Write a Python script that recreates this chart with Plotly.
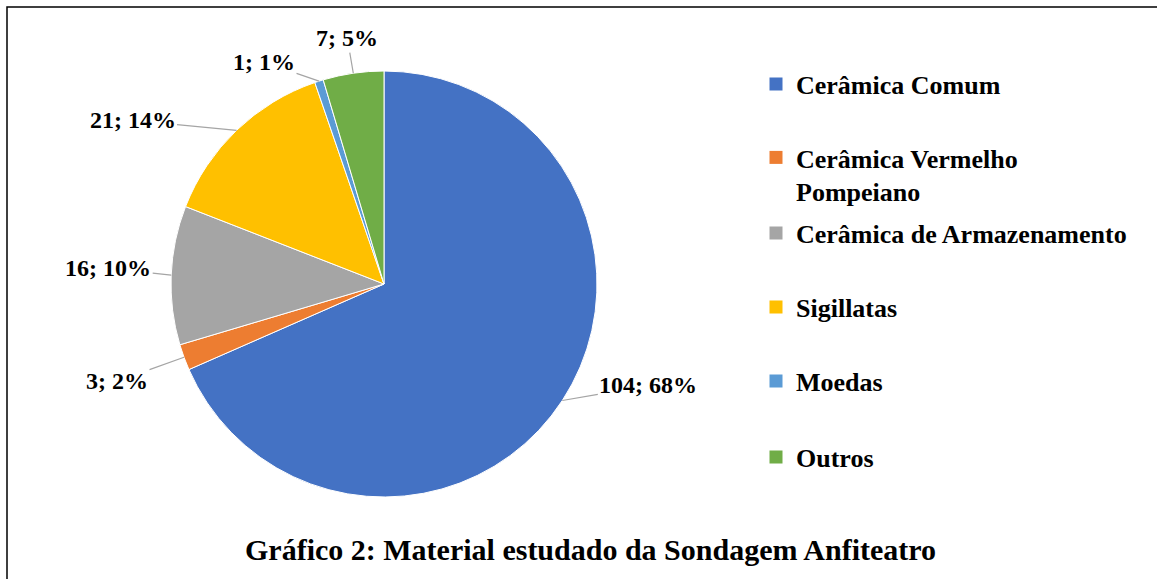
import math
import plotly.graph_objects as go

# ---- data ----
categories = ["Cerâmica Comum", "Cerâmica Vermelho Pompeiano", "Cerâmica de Armazenamento",
              "Sigillatas", "Moedas", "Outros"]
legend_labels = ["Cerâmica Comum", "Cerâmica Vermelho<br>Pompeiano", "Cerâmica de Armazenamento",
                 "Sigillatas", "Moedas", "Outros"]
values = [104, 3, 16, 21, 1, 7]
pct_labels = ["68%", "2%", "10%", "14%", "1%", "5%"]
colors = ["#4472C4", "#ED7D31", "#A5A5A5", "#FFC000", "#5B9BD5", "#70AD47"]
title_text = "Gráfico 2: Material estudado da Sondagem Anfiteatro"

# ---- layout constants ----
W, H = 1157, 579
CX, CY, R = 384, 284, 213           # pie centre / radius in px
FONT = "Liberation Serif, Times New Roman, serif"
label_offsets = [(86, -15), (-67, 24), (-63, -7), (-104, -10), (-55, -19), (-6, -35)]
legend_y_px = [84, 134, 233, 307, 381, 457]
legend_anchor = ["middle", "top", "middle", "middle", "middle", "middle"]

dom_x = [(CX - R) / W, (CX + R) / W]
dom_y = [1 - (CY + R) / H, 1 - (CY - R) / H]

fig = go.Figure()
fig.add_trace(go.Pie(
    labels=categories, values=values, sort=False, direction="clockwise", rotation=0,
    marker=dict(colors=colors, line=dict(color="white", width=1)),
    textinfo="none", showlegend=False, domain=dict(x=dom_x, y=dom_y),
    hoverinfo="label+value+percent",
))

# data labels with leader lines
total = sum(values)
cum = 0
annotations = []
for v, p, (ax, ay) in zip(values, pct_labels, label_offsets):
    theta = 2 * math.pi * (cum + v / 2) / total
    cum += v
    px = CX + R * math.sin(theta)
    py = CY - R * math.cos(theta)
    annotations.append(dict(
        x=px / W, y=1 - py / H, xref="paper", yref="paper",
        text=f"{v}; {p}", showarrow=True, arrowhead=0, arrowwidth=1.2, arrowcolor="#A5A5A5",
        ax=ax, ay=ay, font=dict(family=FONT, size=24, color="black", weight="bold"),
    ))

annotations.append(dict(
    x=590 / W, y=1 - 549 / H, xref="paper", yref="paper", showarrow=False,
    text=title_text, font=dict(family=FONT, size=30, color="black", weight="bold"),
    xanchor="center", yanchor="middle",
))

# legend entries (one legend per entry to reproduce the spacing)
layout_legends = {}
for i, (lab, col) in enumerate(zip(legend_labels, colors)):
    name = "legend" if i == 0 else f"legend{i + 1}"
    fig.add_trace(go.Scatter(
        x=[None], y=[None], mode="markers", name=lab, legend=name,
        marker=dict(symbol="square", size=13, color=col),
    ))
    layout_legends[name] = dict(
        x=756 / W, xanchor="left", y=1 - legend_y_px[i] / H, yanchor=legend_anchor[i],
        font=dict(family=FONT, size=26, color="black", weight="bold"),
        bgcolor="rgba(0,0,0,0)", valign="top", itemclick=False,
    )

fig.update_layout(
    width=W, height=H, margin=dict(l=0, r=0, t=0, b=0),
    paper_bgcolor="white", plot_bgcolor="white",
    xaxis=dict(visible=False), yaxis=dict(visible=False),
    annotations=annotations, showlegend=True,
    shapes=[dict(type="rect", xref="paper", yref="paper", x0=7 / W, y0=1 - 7 / H, x1=1.02, y1=-0.02,
                 line=dict(color="black", width=1.5), fillcolor="rgba(0,0,0,0)")],
    **layout_legends,
)

fig.write_html("out.html", config={"displayModeBar": False},
               post_script="document.body.style.margin='0';")
